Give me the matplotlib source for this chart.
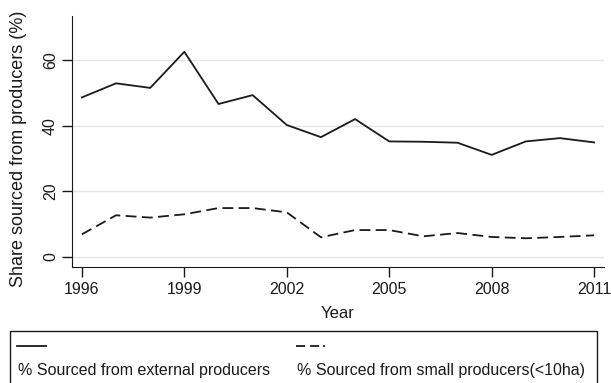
import matplotlib
matplotlib.use("Agg")
import matplotlib.pyplot as plt
from matplotlib.lines import Line2D
from matplotlib.patches import Rectangle

plt.rcParams['font.family'] = ['Liberation Sans', 'DejaVu Sans']

years = list(range(1996, 2012))
external = [48.6, 52.9, 51.5, 62.5, 46.6, 49.3, 40.2, 36.5,
            42.0, 35.2, 35.1, 34.8, 31.1, 35.2, 36.2, 34.9]
small = [6.9, 12.7, 12.0, 13.0, 14.9, 14.9, 13.6, 6.0,
         8.2, 8.2, 6.3, 7.3, 6.1, 5.7, 6.1, 6.6]
xticks = [1996, 1999, 2002, 2005, 2008, 2011]
yticks = [0, 20, 40, 60]
labels = ['% Sourced from external producers', '% Sourced from small producers(<10ha)']

ink = '#1a1a1a'
fig = plt.figure(figsize=(6.11, 3.83), dpi=100)
W, H = 611, 383
ax = fig.add_axes([72 / W, 1 - 267 / H, (604 - 72) / W, (267 - 16) / H])

ax.plot(years, external, color=ink, lw=1.3)
ax.plot(years, small, color=ink, lw=1.3, dashes=(6, 3))

ax.set_xlim(1995.71, 2011.29)
ax.set_ylim(-3.05, 73.4)
ax.set_xticks(xticks)
ax.set_yticks(yticks)
ax.set_yticklabels([str(v) for v in yticks], rotation=90, va='center')
ax.grid(axis='y', color='#e6e6e6', lw=1)
ax.set_axisbelow(True)
for s in ['top', 'right']:
    ax.spines[s].set_visible(False)
for s in ['left', 'bottom']:
    ax.spines[s].set_color(ink)
ax.tick_params(direction='out', length=7, width=1, labelsize=11.5, colors=ink)
ax.tick_params(axis='y', pad=3)
ax.set_xlabel('Year', fontsize=12, va='center', color=ink)
ax.xaxis.set_label_coords(0.5, -0.1833)
ax.set_ylabel('Share sourced from producers (%)', fontsize=13, va='center', color=ink)
ax.yaxis.set_label_coords(-0.1006, 0.472)

# legend box below the plot
fig.patches.append(Rectangle((10 / W, -0.01), 587 / W, 1 - 331 / H + 0.01,
                             transform=fig.transFigure, fill=False, edgecolor=ink, lw=1))
fig.lines.append(Line2D([17 / W, 46 / W], [1 - 345.5 / H] * 2, transform=fig.transFigure,
                        color=ink, lw=1.3))
fig.lines.append(Line2D([296 / W, 325 / W], [1 - 345.5 / H] * 2, transform=fig.transFigure,
                        color=ink, lw=1.3, dashes=(5, 2.8, 5, 2.2, 1.1, 20)))
fig.text(18 / W, 1 - 371 / H, labels[0], fontsize=11.5, va='center', color=ink)
fig.text(297 / W, 1 - 371 / H, labels[1], fontsize=11.5, va='center', color=ink)

fig.savefig('out.png', dpi=100)
